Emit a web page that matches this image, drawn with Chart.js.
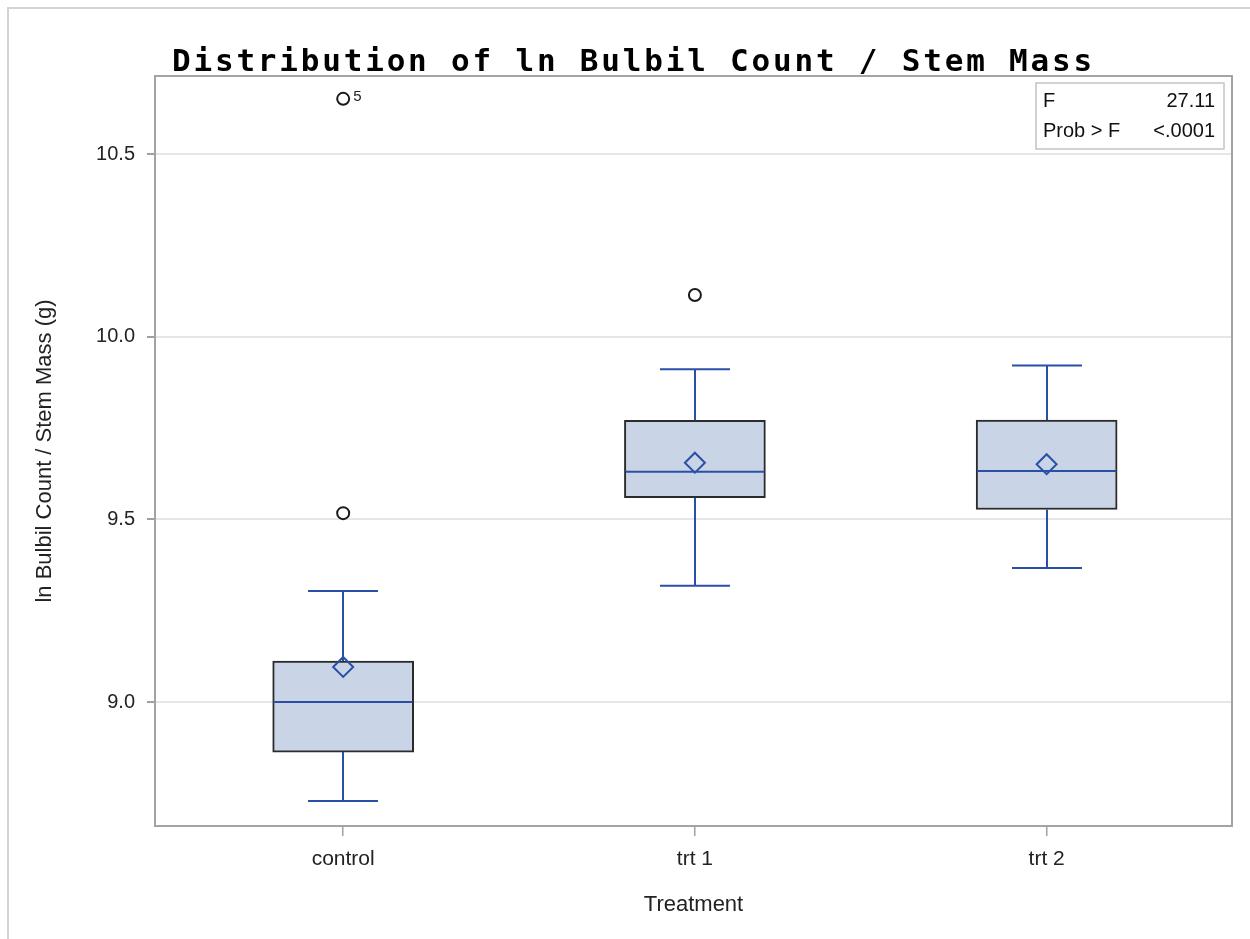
<!DOCTYPE html>
<html>
<head>
<meta charset="utf-8">
<script src="https://cdn.jsdelivr.net/npm/chart.js@4"></script>
<style>
  html, body { margin: 0; padding: 0; background: #fff; overflow: hidden; }
  #wrap { position: absolute; left: 0; top: 0; width: 1250px; height: 939px; }
</style>
</head>
<body>
<div id="wrap"><canvas id="canvas"></canvas></div>
<script>
// values
const categories = ['control', 'trt 1', 'trt 2'];
const whiskerLow = [8.729, 9.318, 9.367];
const q1 = [8.863, 9.559, 9.527];
const median = [9.000, 9.630, 9.632];
const q3 = [9.112, 9.771, 9.772];
const whiskerHigh = [9.304, 9.911, 9.921];
const means = [9.096, 9.655, 9.651];
const outlierGroup = [0, 0, 1];
const outlierValues = [9.517, 10.651, 10.114];
const outlierLabels = ['', '5', ''];
const yTicks = [9.0, 9.5, 10.0, 10.5];
const statRows = [['F', '27.11'], ['Prob > F', '<.0001']];

const BLUE = '#2a4fa6';
const FONT = '"Liberation Sans", Arial, sans-serif';
const BOX_W = 141, CAP_W = 70;

const boxParts = {
    id: 'boxParts',
    afterDatasetDraw(chart, args) {
        if (args.index !== 2) return;
        const ctx = chart.ctx;
        const x = chart.scales.x, y = chart.scales.y;
        ctx.save();
        ctx.strokeStyle = BLUE;
        ctx.lineWidth = 2;
        categories.forEach(function (c, i) {
            const cx = Math.round(x.getPixelForValue(i));
            const line = function (x1, y1, x2, y2) {
                ctx.beginPath(); ctx.moveTo(x1, y1); ctx.lineTo(x2, y2); ctx.stroke();
            };
            line(cx, y.getPixelForValue(q3[i]), cx, y.getPixelForValue(whiskerHigh[i]));
            line(cx, y.getPixelForValue(q1[i]), cx, y.getPixelForValue(whiskerLow[i]));
            line(cx - CAP_W / 2, y.getPixelForValue(whiskerHigh[i]), cx + CAP_W / 2, y.getPixelForValue(whiskerHigh[i]));
            line(cx - CAP_W / 2, y.getPixelForValue(whiskerLow[i]), cx + CAP_W / 2, y.getPixelForValue(whiskerLow[i]));
            line(cx - BOX_W / 2 + 1, y.getPixelForValue(median[i]), cx + BOX_W / 2 - 1, y.getPixelForValue(median[i]));
        });
        ctx.restore();
    }
};

const decor = {
    id: 'decor',
    beforeDraw(chart) {
        const ctx = chart.ctx;
        ctx.save();
        ctx.fillStyle = '#fff';
        ctx.fillRect(0, 0, chart.width, chart.height);
        ctx.strokeStyle = '#d3d3d3';
        ctx.lineWidth = 2;
        ctx.beginPath();
        ctx.moveTo(8, chart.height); ctx.lineTo(8, 8); ctx.lineTo(chart.width, 8);
        ctx.stroke();
        ctx.restore();
    },
    afterDraw(chart) {
        const ctx = chart.ctx;
        const a = chart.chartArea;
        ctx.save();
        // plot frame
        ctx.strokeStyle = '#a3a3a3';
        ctx.lineWidth = 2;
        ctx.strokeRect(a.left, a.top, a.right - a.left, a.bottom - a.top);

        // title
        ctx.fillStyle = '#000';
        ctx.font = 'bold 31px "DejaVu Sans Mono", "Liberation Mono", monospace';
        ctx.letterSpacing = '2.8px';
        ctx.textAlign = 'left';
        ctx.textBaseline = 'alphabetic';
        ctx.fillText('Distribution of ln Bulbil Count / Stem Mass', 172, 71);
        ctx.letterSpacing = '0px';

        // outlier ids
        const meta = chart.getDatasetMeta(1);
        ctx.font = '15px ' + FONT;
        ctx.fillStyle = '#222';
        ctx.textBaseline = 'middle';
        outlierLabels.forEach(function (t, j) {
            if (!t) return;
            const p = meta.data[j];
            ctx.fillText(t, p.x + 10, p.y - 2);
        });

        // F statistic inset
        const bx = a.right - 196, by = a.top + 7, bw = 188, bh = 66;
        ctx.strokeStyle = '#c4c4c4';
        ctx.lineWidth = 1.5;
        ctx.strokeRect(bx, by, bw, bh);
        ctx.font = '20px ' + FONT;
        ctx.fillStyle = '#111';
        ctx.textBaseline = 'alphabetic';
        statRows.forEach(function (r, k) {
            const ty = by + 24 + k * 30;
            ctx.textAlign = 'left';
            ctx.fillText(r[0], bx + 7, ty);
            ctx.textAlign = 'right';
            ctx.fillText(r[1], bx + bw - 9, ty);
        });
        ctx.restore();
    }
};

const config = {
    type: 'bar',
    data: {
        datasets: [
            {
                type: 'scatter',
                label: 'mean',
                data: means.map(function (v, i) { return {x: i, y: v}; }),
                pointStyle: 'rectRot',
                radius: 10,
                borderColor: BLUE,
                backgroundColor: 'rgba(0,0,0,0)',
                borderWidth: 2
            },
            {
                type: 'scatter',
                label: 'outliers',
                data: outlierValues.map(function (v, j) { return {x: outlierGroup[j], y: v}; }),
                pointStyle: 'circle',
                radius: 6,
                borderColor: '#1a1a1a',
                backgroundColor: 'rgba(0,0,0,0)',
                borderWidth: 2
            },
            {
                label: 'box',
                data: categories.map(function (c, i) { return {x: i, y: [q1[i], q3[i]]}; }),
                backgroundColor: '#c9d5e6',
                borderColor: '#2b2b2b',
                borderWidth: 2,
                borderSkipped: false,
                barThickness: BOX_W
            }
        ]
    },
    options: {
        responsive: true,
        maintainAspectRatio: false,
        animation: false,
        layout: {padding: {top: 76, right: 18, left: 0, bottom: 0}},
        plugins: {legend: {display: false}, tooltip: {enabled: false}},
        scales: {
            x: {
                type: 'linear',
                min: -0.535,
                max: 2.527,
                offset: false,
                afterBuildTicks: function (s) { s.ticks = categories.map(function (c, i) { return {value: i}; }); },
                afterFit: function (s) { s.height = 113; },
                ticks: {
                    callback: function (v) { return categories[v]; },
                    font: {family: FONT, size: 21},
                    color: '#222',
                    padding: 11,
                    maxRotation: 0
                },
                grid: {drawOnChartArea: false, offset: false, tickLength: 10, tickColor: '#a0a0a0', lineWidth: 1.5},
                border: {display: false},
                title: {display: true, text: 'Treatment', font: {family: FONT, size: 22}, color: '#222', padding: {top: 0, bottom: 21}}
            },
            y: {
                min: 8.6606,
                max: 10.7135,
                afterBuildTicks: function (s) { s.ticks = yTicks.map(function (v) { return {value: v}; }); },
                afterFit: function (s) { s.width = 155; },
                ticks: {
                    callback: function (v) { return v.toFixed(1); },
                    font: {family: FONT, size: 20},
                    color: '#222',
                    padding: 12
                },
                grid: {color: '#e6e6e6', lineWidth: 2, tickLength: 8, tickColor: '#a0a0a0'},
                border: {display: false},
                title: {display: true, text: 'ln Bulbil Count / Stem Mass (g)', font: {family: FONT, size: 22}, color: '#222', padding: {top: 32, bottom: 0}}
            }
        }
    },
    plugins: [decor, boxParts]
};

const chart = new Chart(document.getElementById('canvas').getContext('2d'), config);
</script>
</body>
</html>
